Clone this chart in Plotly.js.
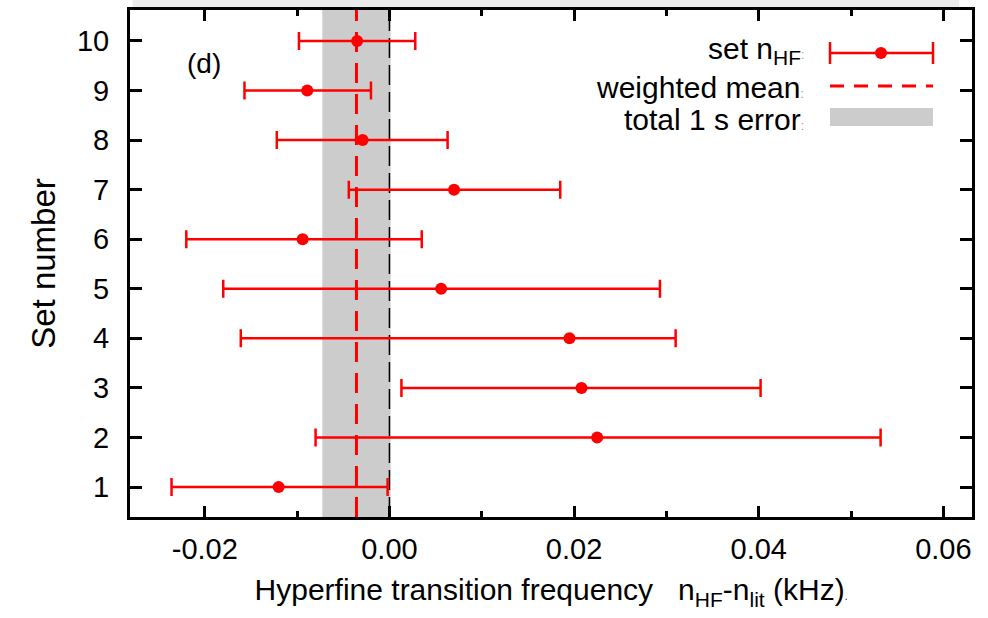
<!DOCTYPE html>
<html>
<head>
<meta charset="utf-8">
<script src="https://cdn.plot.ly/plotly-3.0.1.min.js"></script>
<style>
html,body{margin:0;padding:0;background:#fff;}
#chart{width:988px;height:618px;}
</style>
</head>
<body>
<div id="chart"></div>
<script>
// ---- data ----
var setNumbers = [1, 2, 3, 4, 5, 6, 7, 8, 9, 10];
var setValues  = [-0.0120, 0.0225, 0.0208, 0.0195, 0.0056, -0.0094, 0.0070, -0.0029, -0.0089, -0.0035];
var errLow     = [-0.0236, -0.0080, 0.0013, -0.0161, -0.0180, -0.0220, -0.0044, -0.0122, -0.0157, -0.0098];
var errHigh    = [-0.0002, 0.0532, 0.0402, 0.0310, 0.0293, 0.0035, 0.0185, 0.0063, -0.0020, 0.0028];
var weightedMean = -0.00357;
var totalError = 0.0037;
var xTickVals = [-0.02, 0.00, 0.02, 0.04, 0.06];
var xTickText = ['-0.02', '0.00', '0.02', '0.04', '0.06'];
var yTickVals = [1, 2, 3, 4, 5, 6, 7, 8, 9, 10];

var plus = setValues.map(function(v, i){ return errHigh[i] - v; });
var minus = setValues.map(function(v, i){ return v - errLow[i]; });

var red = '#ff0000';
var font = 'Liberation Sans, Arial, sans-serif';

var trace = {
  type: 'scatter', mode: 'markers',
  x: setValues, y: setNumbers,
  marker: {color: red, size: 12},
  error_x: {type: 'data', symmetric: false, array: plus, arrayminus: minus,
            color: red, thickness: 2.5, width: 9},
  showlegend: false, hoverinfo: 'skip'
};

// pixel helpers for legend (paper coords)
var L = 130, R = 972, T = 10, B = 517;
function px(x){ return (x - L) / (R - L); }
function py(y){ return (B - y) / (B - T); }

var shapes = [
  {type: 'rect', xref: 'paper', yref: 'paper', x0: 0.003, x1: 0.985, y0: 1.003, y1: py(0), fillcolor: '#ebebeb', line: {width: 0}, layer: 'below'},
  {type: 'rect', xref: 'x', yref: 'paper', x0: weightedMean - totalError, x1: weightedMean + totalError,
   y0: 0, y1: 1, fillcolor: '#cccccc', line: {width: 0}, layer: 'below'},
  {type: 'line', xref: 'x', yref: 'paper', x0: 0, x1: 0, y0: 0, y1: 1,
   line: {color: '#000', width: 1.5, dash: '20px,7px'}, layer: 'below'},
  {type: 'line', xref: 'x', yref: 'paper', x0: weightedMean, x1: weightedMean, y0: 0, y1: 1,
   line: {color: red, width: 3, dash: '20px,11px'}, layer: 'below'},
  {type: 'line', xref: 'paper', yref: 'paper', x0: px(830), x1: px(933), y0: py(53), y1: py(53), line: {color: red, width: 2.5}},
  {type: 'line', xref: 'paper', yref: 'paper', x0: px(830), x1: px(830), y0: py(42), y1: py(64), line: {color: red, width: 2.5}},
  {type: 'line', xref: 'paper', yref: 'paper', x0: px(933), x1: px(933), y0: py(42), y1: py(64), line: {color: red, width: 2.5}},
  {type: 'circle', xref: 'paper', yref: 'paper', xsizemode: 'pixel', ysizemode: 'pixel',
   xanchor: px(881), yanchor: py(53), x0: -6, x1: 6, y0: -6, y1: 6, fillcolor: red, line: {width: 0}},
  {type: 'line', xref: 'paper', yref: 'paper', x0: px(830), x1: px(933), y0: py(86), y1: py(86), line: {color: red, width: 3, dash: '14px,10px'}},
  {type: 'rect', xref: 'paper', yref: 'paper', x0: px(830), x1: px(933), y0: py(126), y1: py(108), fillcolor: '#cccccc', line: {width: 0}}
];

var colon = "<span style='font-size:12px;color:#999'>:</span>";
var annotations = [
  {xref: 'paper', yref: 'paper', x: px(806), y: py(51), xanchor: 'right', yanchor: 'middle', showarrow: false,
   text: 'set n<sub>HF</sub>' + colon, font: {family: font, size: 30, color: '#000'}},
  {xref: 'paper', yref: 'paper', x: px(806), y: py(87), xanchor: 'right', yanchor: 'middle', showarrow: false,
   text: 'weighted mean' + colon, font: {family: font, size: 30, color: '#000'}},
  {xref: 'paper', yref: 'paper', x: px(806), y: py(119), xanchor: 'right', yanchor: 'middle', showarrow: false,
   text: 'total 1 s error' + colon, font: {family: font, size: 30, color: '#000'}},
  {xref: 'paper', yref: 'paper', x: px(204), y: py(64), xanchor: 'center', yanchor: 'middle', showarrow: false,
   text: '(d)', font: {family: font, size: 28, color: '#000'}}
];

var layout = {
  width: 988, height: 618,
  margin: {l: 130, r: 16, t: 10, b: 101},
  paper_bgcolor: '#fff', plot_bgcolor: 'rgba(0,0,0,0)',
  font: {family: font, color: '#000'},
  showlegend: false,
  xaxis: {
    range: [-0.0281, 0.0631],
    tickvals: xTickVals, ticktext: xTickText,
    ticks: 'inside', ticklen: 11, tickwidth: 3, tickcolor: '#000',
    minor: {dtick: 0.01, ticks: 'inside', ticklen: 6, tickwidth: 3, tickcolor: '#000'},
    showline: true, linewidth: 3, linecolor: '#000', mirror: 'ticks',
    showgrid: false, zeroline: false,
    tickfont: {family: font, size: 29, color: '#000'},
    ticklabelstandoff: 4,
    title: {text: 'Hyperfine transition frequency   n<sub>HF</sub>-n<sub>lit</sub> (kHz)<span style="font-size:10px">.</span>',
            font: {family: font, size: 30, color: '#000'}, standoff: 16}
  },
  yaxis: {
    range: [0.395, 10.625],
    tickvals: yTickVals,
    ticks: 'inside', ticklen: 12, tickwidth: 3, tickcolor: '#000',
    showline: true, linewidth: 3, linecolor: '#000', mirror: 'ticks',
    showgrid: false, zeroline: false,
    tickfont: {family: font, size: 29, color: '#000'},
    ticklabelstandoff: 12,
    title: {text: 'Set number', font: {family: font, size: 33, color: '#000'}, standoff: 12}
  },
  shapes: shapes,
  annotations: annotations
};

Plotly.newPlot('chart', [trace], layout, {displayModeBar: false, staticPlot: true});
</script>
</body>
</html>
